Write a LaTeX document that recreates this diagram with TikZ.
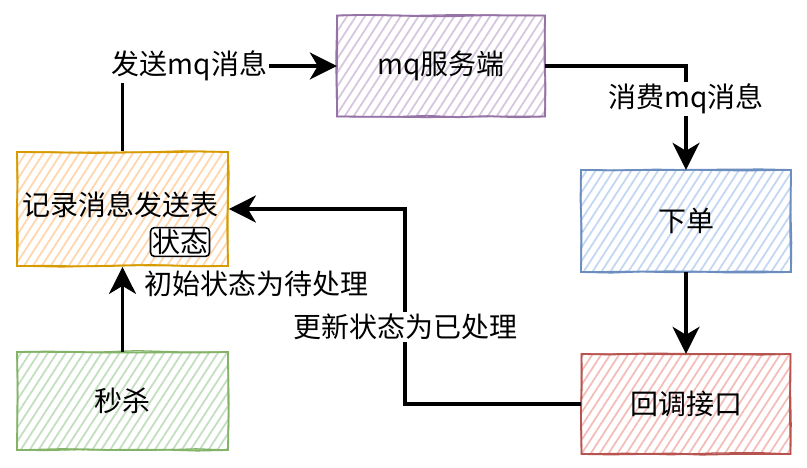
\documentclass[tikz,border=0pt]{standalone}
\usepackage{fontspec}
\setmainfont{Noto Sans CJK SC}
\usetikzlibrary{arrows.meta,patterns.meta,decorations.pathmorphing}
\definecolor{orS}{HTML}{D79B00}\definecolor{orF}{HTML}{FFD6AD}
\definecolor{puS}{HTML}{9673A6}\definecolor{puF}{HTML}{D6C6DE}
\definecolor{blS}{HTML}{6C8EBF}\definecolor{blF}{HTML}{C3D6F3}
\definecolor{grS}{HTML}{82B366}\definecolor{grF}{HTML}{C3DFC0}
\definecolor{reS}{HTML}{B85450}\definecolor{reF}{HTML}{F3BDBA}
\tikzset{
  txt/.style={font=\fontsize{28}{32}\selectfont},
  skbox/.style 2 args={rectangle, inner sep=0pt, txt,
    pattern={Lines[angle=57,distance=7.5pt,line width=1.8pt]}, pattern color=#2,
    postaction={draw=#1, line width=1.8pt, decorate, decoration={random steps, segment length=30pt, amplitude=0.7pt}},
    postaction={draw=#1, line width=1.3pt, decorate, decoration={random steps, segment length=45pt, amplitude=1.3pt}}},
  arr/.style={line width=3.6pt, -{Stealth[length=27pt,width=27pt,inset=8pt]}},
  lab/.style={txt, fill=white, inner sep=2pt},
}
\begin{document}
\begin{tikzpicture}[x=1pt,y=-1pt]
\pgfmathsetseed{7}
\useasboundingbox (0,0) rectangle (807,468);
\node[skbox={orS}{orF}, minimum width=211pt, minimum height=114pt] (rec) at (122.5,209) {};
\node[txt] (rectxt) at (121,205) {记录消息发送表};
\node[draw, fill=white, rounded corners=4pt, line width=1.6pt, inner sep=1.5pt, txt] (zt) at (180,242) {状态};
\node[skbox={puS}{puF}, minimum width=208pt, minimum height=101pt] (mq) at (441,66) {mq服务端};
\node[skbox={blS}{blF}, minimum width=210pt, minimum height=102pt] (xd) at (686,221) {下单};
\node[skbox={grS}{grF}, minimum width=211pt, minimum height=98pt] (ms) at (122.5,401) {秒杀};
\node[skbox={reS}{reF}, minimum width=209pt, minimum height=100pt] (hd) at (686,404) {回调接口};
\coordinate (bend) at (405,0);
\draw[arr] (rec.north) |- (mq.west) node[pos=0.656, lab] {发送mq消息};
\draw[arr] (mq.east) -| (xd.north) node[pos=0.66, lab] {消费mq消息};
\draw[arr] (xd.south) -- (hd.north);
\draw[arr] (hd.west) -- (hd.west -| bend) |- (rec.east) node[pos=0.197, lab] {更新状态为已处理};
\draw[arr] (ms.north) -- (rec.south) node[pos=0.8, anchor=west, xshift=18pt, txt, inner sep=2pt] {初始状态为待处理};
\end{tikzpicture}
\end{document}
